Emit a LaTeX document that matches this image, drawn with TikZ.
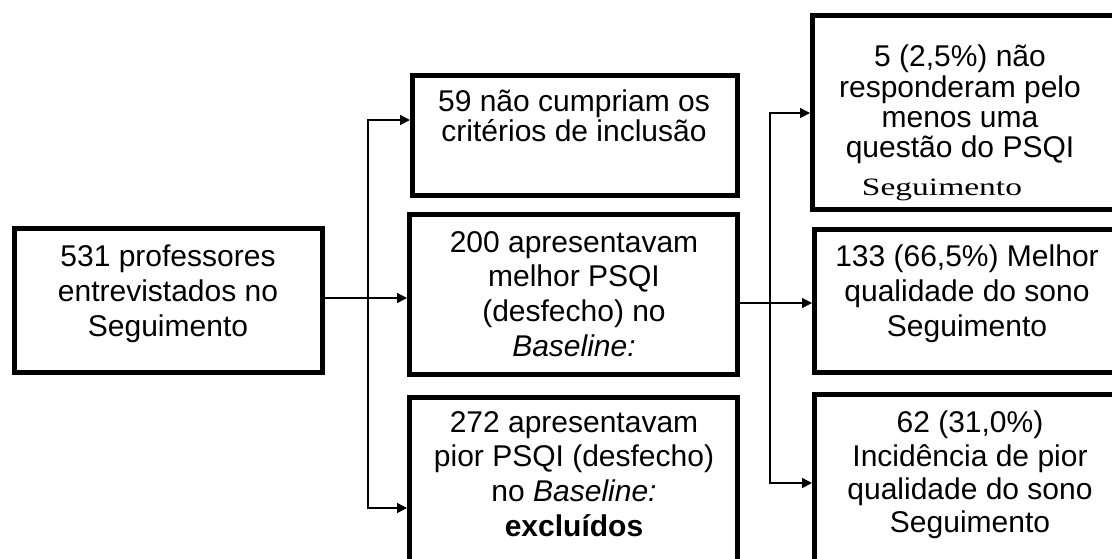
\documentclass[tikz,border=0pt]{standalone}
\usepackage{graphicx}
\usepackage{fontspec}
\setmainfont{Liberation Sans}
\newfontfamily\serifface{Liberation Serif}
\usetikzlibrary{arrows.meta}
\begin{document}
\begin{tikzpicture}[x=1pt,y=-1pt,
  box/.style={draw,line width=5pt,inner sep=0pt},
  lbl/.style={align=center,inner sep=0pt},
  conn/.style={line width=1.5pt},
  arr/.style={conn,-{Triangle[length=10pt,width=10pt]}}]
\useasboundingbox (0,0) rectangle (1112,558);
\clip (0,0) rectangle (1112,558);
\fill[white] (0,0) rectangle (1112,558);
% boxes
\node[box,minimum width=308pt,minimum height=144pt] (b531) at (168.5,300.5) {};
\node[box,minimum width=325pt,minimum height=120pt] (b59) at (575,135.5) {};
\node[box,minimum width=328pt,minimum height=160pt] (b200) at (573.5,294.5) {};
\node[box,minimum width=328pt,minimum height=220pt] (b272) at (573.5,507.5) {};
\node[box,minimum width=310pt,minimum height=194pt] (b5) at (967.5,112.5) {};
\node[box,minimum width=308pt,minimum height=143pt] (b133) at (968.5,301) {};
\node[box,minimum width=308pt,minimum height=223pt] (b62) at (968.5,506) {};
% connectors
\coordinate (J1) at (368,298);
\coordinate (T1) at (368,120);
\coordinate (B1) at (368,508);
\draw[conn] (b531.east |- J1) -- (J1);
\draw[arr] (J1) -- (J1 -| b200.west);
\draw[arr] (J1) -- (T1) -- (T1 -| b59.west);
\draw[arr] (J1) -- (B1) -- (B1 -| b272.west);
\coordinate (J2) at (770,303);
\coordinate (T2) at (770,113);
\coordinate (B2) at (770,483);
\draw[conn] (b200.east |- J2) -- (J2);
\draw[arr] (J2) -- (J2 -| b133.west);
\draw[arr] (J2) -- (T2) -- (T2 -| b5.west);
\draw[arr] (J2) -- (B2) -- (B2 -| b62.west);
% texts
\node[lbl,font=\fontsize{30}{35}\selectfont] (t531) at (168,294) {531 professores\\entrevistados no\\Seguimento};
\node[lbl,font=\fontsize{30}{30}\selectfont] (t59) at (574,116) {59 não cumpriam os\\critérios de inclusão};
\node[lbl,font=\fontsize{30}{34.7}\selectfont] (t200) at (574,294) {200 apresentavam\\melhor PSQI\\(desfecho) no\\\textit{Baseline:}};
\node[lbl,font=\fontsize{30}{34.7}\selectfont] (t272) at (574,474) {272 apresentavam\\pior PSQI (desfecho)\\no \textit{Baseline:}\\\textbf{excluídos}};
\node[lbl,font=\fontsize{30}{30.3}\selectfont] (t5) at (960,104.5) {5 (2,5\%) não\\responderam pelo\\menos uma\\questão do PSQI};
\node[anchor=base,inner sep=0pt,font=\serifface\fontsize{25}{25}\selectfont] (t5s) at (942,195) {\scalebox{1.34}[1]{Seguimento}};
\node[lbl,font=\fontsize{30}{35}\selectfont] (t133) at (967,294) {133 (66,5\%) Melhor\\qualidade do sono\\Seguimento};
\node[lbl,font=\fontsize{30}{33.3}\selectfont] (t62) at (970,475) {62 (31,0\%)\\Incidência de pior\\qualidade do sono\\Seguimento};
\end{tikzpicture}
\end{document}
